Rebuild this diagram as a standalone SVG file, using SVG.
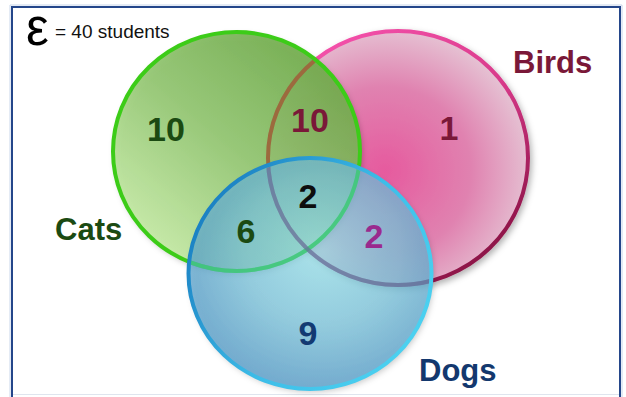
<svg xmlns="http://www.w3.org/2000/svg" width="626" height="397" viewBox="0 0 626 397">
<style>
.num{font-family:"Liberation Sans",Arial,sans-serif;font-weight:bold;font-size:34px;text-anchor:middle}
.lbl{font-family:"Liberation Sans",Arial,sans-serif;font-weight:bold;font-size:31px}
.txt{font-family:"Liberation Sans",Arial,sans-serif}
</style>
<defs>
<filter id="sh" x="-10%" y="-10%" width="125%" height="125%">
<feDropShadow dx="2" dy="3" stdDeviation="3" flood-color="#000" flood-opacity="0.3"/>
</filter>
<linearGradient id="gCats" x1="0.85" y1="0.1" x2="0.15" y2="0.9">
<stop offset="0" stop-color="#6eaa48"/>
<stop offset="0.5" stop-color="#92c670"/>
<stop offset="1" stop-color="#c6eca6"/>
</linearGradient>
<radialGradient id="gBirds" cx="0.45" cy="0.55" r="0.6">
<stop offset="0" stop-color="#e65a9e"/>
<stop offset="0.55" stop-color="#e082b0"/>
<stop offset="1" stop-color="#e6cbd8"/>
</radialGradient>
<linearGradient id="sBirds" x1="0.2" y1="0.1" x2="0.8" y2="0.9">
<stop offset="0" stop-color="#f24fa8"/>
<stop offset="0.5" stop-color="#d83a8a"/>
<stop offset="1" stop-color="#8e1448"/>
</linearGradient>
<radialGradient id="gDogs" cx="0.55" cy="0.4" r="0.65">
<stop offset="0" stop-color="#9ae4ec"/>
<stop offset="0.5" stop-color="#7ac4dc"/>
<stop offset="1" stop-color="#4892c4"/>
</radialGradient>
<linearGradient id="sDogs" x1="0" y1="0.3" x2="1" y2="0.9">
<stop offset="0" stop-color="#1a7fc2"/>
<stop offset="0.5" stop-color="#3dbde8"/>
<stop offset="1" stop-color="#4fd6f2"/>
</linearGradient>
<clipPath id="inCats"><ellipse cx="236.5" cy="151.5" rx="121.5" ry="117.5"/></clipPath>
<clipPath id="inDogs"><ellipse cx="310" cy="273.5" rx="119.5" ry="113.5"/></clipPath>
</defs>

<rect x="0" y="0" width="626" height="397" fill="#ffffff"/>
<g id="frame">
<path d="M12,397 V7 H620 V397" fill="none" stroke="#24468a" stroke-width="2"/>
<path d="M10,397 V5 H622 V397" fill="none" stroke="#c9d6ea" stroke-width="1"/>
<line x1="13" y1="394.5" x2="619" y2="394.5" stroke="#dfe5ee" stroke-width="1"/>
</g>

<g id="universe">
<text class="txt" x="26" y="45" font-size="51">ε</text>
<text class="txt" x="55" y="38" font-size="19" fill="#111">= 40 students</text>
</g>

<g id="birds">
<ellipse cx="398" cy="158" rx="130" ry="127" fill="url(#gBirds)" stroke="url(#sBirds)" stroke-width="4" filter="url(#sh)"/>
</g>

<g id="cats">
<ellipse cx="236.5" cy="151.5" rx="123.5" ry="119.5" fill="url(#gCats)" fill-opacity="0.9" filter="url(#sh)"/>
<ellipse cx="398" cy="158" rx="130" ry="127" fill="none" stroke="#9c6a3e" stroke-width="4" clip-path="url(#inCats)"/>
<ellipse cx="236.5" cy="151.5" rx="123.5" ry="119.5" fill="none" stroke="#3ccc18" stroke-width="4"/>
</g>

<g id="dogs">
<ellipse cx="310" cy="273.5" rx="121.5" ry="115.5" fill="url(#gDogs)" fill-opacity="0.72" filter="url(#sh)"/>
<g clip-path="url(#inDogs)">
<ellipse cx="236.5" cy="151.5" rx="123.5" ry="119.5" fill="none" stroke="#40c878" stroke-width="4" opacity="0.85"/>
<ellipse cx="398" cy="158" rx="130" ry="127" fill="none" stroke="#66709a" stroke-width="4" opacity="0.7"/>
</g>
<ellipse cx="310" cy="273.5" rx="121.5" ry="115.5" fill="none" stroke="url(#sDogs)" stroke-width="4"/>
</g>

<g id="labels">
<text class="num" x="166" y="141" fill="#1b4a12">10</text>
<text class="num" x="310" y="132" fill="#7a1838">10</text>
<text class="num" x="449" y="140" fill="#7a1838">1</text>
<text class="num" x="308" y="208" fill="#0d0d0d">2</text>
<text class="num" x="246" y="243" fill="#1b4a12">6</text>
<text class="num" x="374" y="248" fill="#9a2a8e">2</text>
<text class="num" x="308" y="345" fill="#133a72">9</text>
<text class="lbl" x="55" y="240" fill="#1b4a12">Cats</text>
<text class="lbl" x="513" y="73" fill="#7a1838">Birds</text>
<text class="lbl" x="419" y="381" fill="#13386e">Dogs</text>
</g>
</svg>
